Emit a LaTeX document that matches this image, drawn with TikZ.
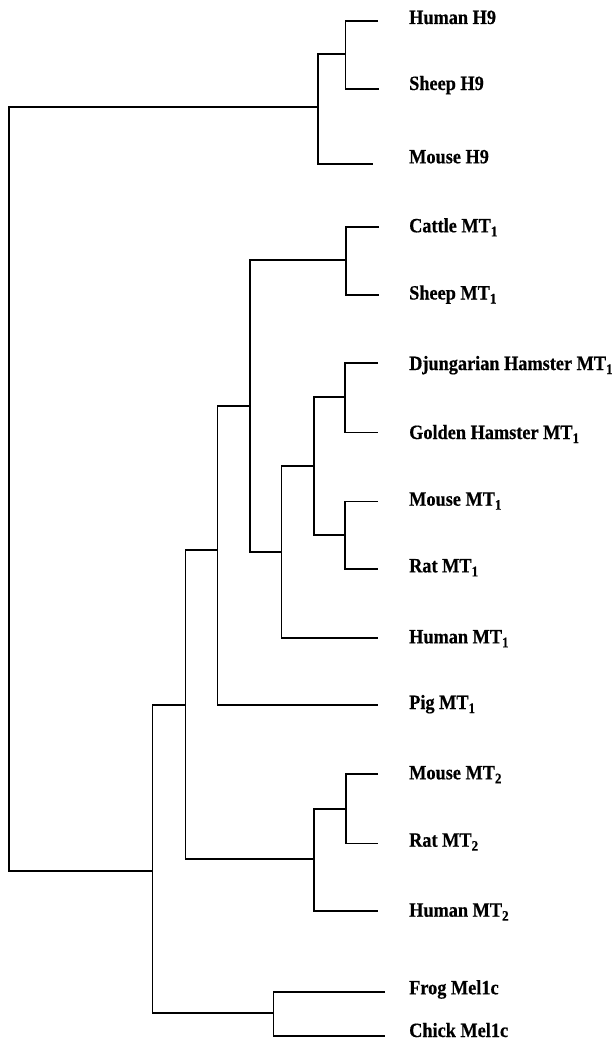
\documentclass[tikz,border=0pt]{standalone}
\usepackage{fontspec}
\setmainfont{Liberation Serif}[FakeStretch=0.9, BoldFeatures={FakeBold=0.5}]
\newcommand\subnum[1]{\raisebox{-4pt}{\fontsize{14.5}{14.5}\selectfont #1}}
\begin{document}
\begin{tikzpicture}[x=1pt,y=-1pt,
  branch/.style={line width=1.9pt, black, line join=miter},
  lab/.style={anchor=base west, inner sep=0pt, font=\fontsize{20.3}{23}\selectfont\bfseries}]
\useasboundingbox (0,0) rectangle (614,1041);
% leaf ends
\coordinate (hH9) at (378,21);
\coordinate (sH9) at (379,89);
\coordinate (mH9) at (373,164.3);
\coordinate (cMT1) at (379,226.7);
\coordinate (sMT1) at (379,295.3);
\coordinate (dMT1) at (378,363);
\coordinate (gMT1) at (378,432.5);
\coordinate (mMT1) at (378,501.5);
\coordinate (rMT1) at (378,569);
\coordinate (huMT1) at (378,638);
\coordinate (pMT1) at (378,705);
\coordinate (mMT2) at (378,774);
\coordinate (rMT2) at (378,843.5);
\coordinate (huMT2) at (378,910.7);
\coordinate (frog) at (385,992.3);
\coordinate (chick) at (385,1035.7);
% internal nodes
\coordinate (n1) at (345.5,54);
\coordinate (n2) at (318.4,107.3);
\coordinate (n3) at (345.7,259.7);
\coordinate (n4) at (345.3,397.3);
\coordinate (n5) at (345.3,534.7);
\coordinate (n6) at (314.3,466.3);
\coordinate (n7) at (281.5,552.3);
\coordinate (n8) at (249.7,405.7);
\coordinate (n9) at (217.5,550.3);
\coordinate (n10) at (345.7,808.7);
\coordinate (n11) at (314.3,859);
\coordinate (n12) at (185.5,705);
\coordinate (n13) at (273.5,1013.3);
\coordinate (n14) at (152.5,870.7);
\coordinate (root) at (8.7,500);
% branches
\draw[branch] (hH9) -| (n1) |- (sH9);
\draw[branch] (n1) -| (n2) |- (mH9);
\draw[branch] (cMT1) -| (n3) |- (sMT1);
\draw[branch] (dMT1) -| (n4) |- (gMT1);
\draw[branch] (mMT1) -| (n5) |- (rMT1);
\draw[branch] (n4) -| (n6) |- (n5);
\draw[branch] (n6) -| (n7) |- (huMT1);
\draw[branch] (n3) -| (n8) |- (n7);
\draw[branch] (n8) -| (n9) |- (pMT1);
\draw[branch] (mMT2) -| (n10) |- (rMT2);
\draw[branch] (n10) -| (n11) |- (huMT2);
\draw[branch] (n9) -| (n12) |- (n11);
\draw[branch] (frog) -| (n13) |- (chick);
\draw[branch] (n12) -| (n14) |- (n13);
\draw[branch] (n2) -| (root) |- (n14);
% labels
\node[lab] (LhH9) at (409,24) {Human H9};
\node[lab] (LsH9) at (409,90) {Sheep H9};
\node[lab] (LmH9) at (409,163.3) {Mouse H9};
\node[lab] (LcMT1) at (409,232.3) {Cattle MT\subnum{1}};
\node[lab] (LsMT1) at (409,299.5) {Sheep MT\subnum{1}};
\node[lab] (LdMT1) at (409,370) {Djungarian Hamster MT\subnum{1}};
\node[lab] (LgMT1) at (409,439) {Golden Hamster MT\subnum{1}};
\node[lab] (LmMT1) at (409,505.7) {Mouse MT\subnum{1}};
\node[lab] (LrMT1) at (409,572.3) {Rat MT\subnum{1}};
\node[lab] (LhuMT1) at (409,643.3) {Human MT\subnum{1}};
\node[lab] (LpMT1) at (409,709) {Pig MT\subnum{1}};
\node[lab] (LmMT2) at (409,779.3) {Mouse MT\subnum{2}};
\node[lab] (LrMT2) at (409,846.7) {Rat MT\subnum{2}};
\node[lab] (LhuMT2) at (409,916.7) {Human MT\subnum{2}};
\node[lab] (Lfrog) at (409,994.3) {Frog Mel1c};
\node[lab] (Lchick) at (409,1037) {Chick Mel1c};
\end{tikzpicture}
\end{document}
